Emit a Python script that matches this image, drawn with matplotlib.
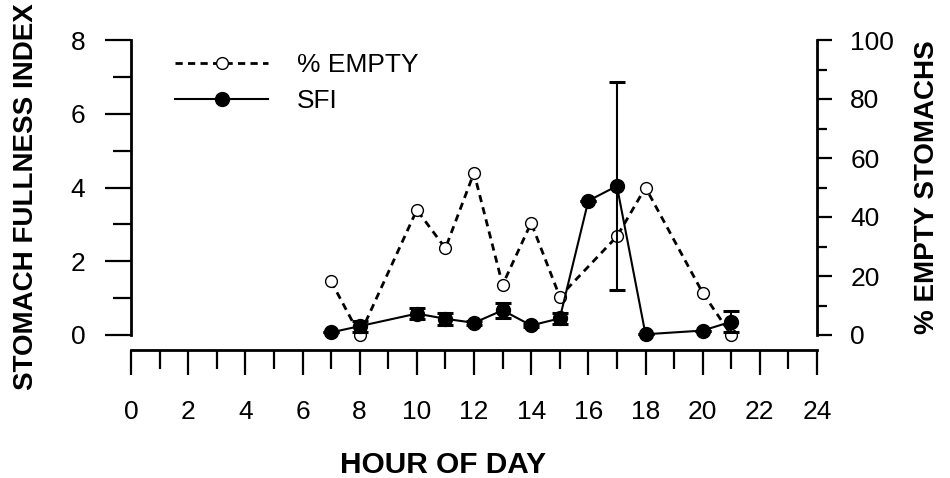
import numpy as np
import matplotlib
matplotlib.use("Agg")
import matplotlib.pyplot as plt

plt.rcParams['font.family'] = ['Liberation Sans', 'DejaVu Sans']

# hours sampled
hours = [7, 8, 10, 11, 12, 13, 14, 15, 16, 17, 18, 20, 21]
# stomach fullness index (left axis) and its error
sfi = [0.07, 0.24, 0.58, 0.44, 0.33, 0.67, 0.26, 0.45, 3.64, 4.04, 0.02, 0.12, 0.36]
sfi_err = [0.0, 0.15, 0.15, 0.16, 0.06, 0.2, 0.03, 0.16, 0.0, 2.82, 0.0, 0.0, 0.28]
# percent empty stomachs (right axis)
pct_hours = [7, 8, 10, 11, 12, 13, 14, 15, 17, 18, 20, 21]
pct_empty = [18.2, 0, 42.4, 29.4, 55, 17, 38, 13, 33.4, 50, 14.3, 0]

fig = plt.figure(figsize=(9.5, 4.78), dpi=100)
ax = fig.add_axes([131/950, (478-335)/478, 686/950, 295/478])
ax2 = ax.twinx()
ax.set_zorder(ax2.get_zorder() + 1)
ax.patch.set_visible(False)

# % empty on right axis
l1, = ax2.plot(pct_hours, pct_empty, color='black', lw=2, dashes=(2.6, 1.9),
               marker='o', ms=8.5, mfc='white', mec='black', mew=1.0, clip_on=False)
# SFI with error bars on left axis
eb = ax.errorbar(hours, sfi, yerr=sfi_err, color='black', lw=1.5, marker='o', ms=10,
                 mfc='black', mec='black', capsize=5.5, capthick=2.2, elinewidth=1.5,
                 clip_on=False)
for a in eb.lines[1] + eb.lines[2]:
    a.set_clip_on(False)
l2 = eb.lines[0]

ax.set_xlim(0, 24)
ax.set_ylim(0, 8)
ax2.set_ylim(0, 100)

for a in (ax, ax2):
    for s in a.spines.values():
        s.set_visible(False)
        s.set_linewidth(2)

ax.spines['left'].set_visible(True)
ax.spines['left'].set_bounds(0, 8)
ax.spines['bottom'].set_visible(True)
ax.spines['bottom'].set_position(('outward', 11))
ax2.spines['right'].set_visible(True)
ax2.spines['right'].set_bounds(0, 100)

ax.set_xticks(np.arange(0, 25, 2))
ax.set_xticks(np.arange(0, 25, 1), minor=True)
ax.set_yticks(np.arange(0, 9, 2))
ax.set_yticks(np.arange(0, 9, 1), minor=True)
ax2.set_yticks(np.arange(0, 101, 20))
ax2.set_yticks(np.arange(0, 101, 10), minor=True)

ax.tick_params(axis='x', which='major', length=18, width=1.6, pad=18, labelsize=19)
ax.tick_params(axis='x', which='minor', length=13.5, width=1.6)
ax.tick_params(axis='y', which='major', length=19, width=1.6, pad=14, labelsize=19)
ax.tick_params(axis='y', which='minor', length=13, width=1.6)
ax2.tick_params(axis='y', which='major', length=11, width=1.6, pad=13, labelsize=19)
ax2.tick_params(axis='y', which='minor', length=7, width=1.6)
ax.tick_params(axis='x', which='both', top=False)
ax2.tick_params(axis='x', which='both', bottom=False, top=False, labelbottom=False)

ax.set_xlabel('HOUR OF DAY', fontsize=21.5, fontweight='bold', va='center')
ax.xaxis.set_label_coords(0.455, -0.44)
ax.set_ylabel('STOMACH FULLNESS INDEX', fontsize=20, fontweight='bold', va='center')
ax.yaxis.set_label_coords(-0.153, 0.47)
ax2.set_ylabel('% EMPTY STOMACHS', fontsize=20, fontweight='bold', va='center', rotation=90)
ax2.yaxis.set_label_coords(1.161, 0.5)

ax.legend([l1, l2], ['% EMPTY', 'SFI'], loc='upper left', bbox_to_anchor=(0.03, 1.035),
          frameon=False, fontsize=19, handlelength=3.5, handletextpad=1.1,
          labelspacing=0.45, numpoints=1)

fig.savefig('out.png', dpi=100)
